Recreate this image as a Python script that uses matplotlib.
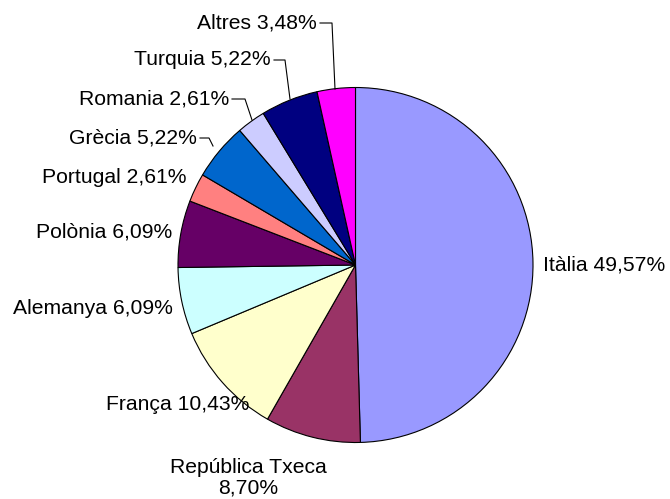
import matplotlib
matplotlib.use("Agg")
from matplotlib import pyplot as plt

plt.rcParams['font.family'] = ['Liberation Sans', 'DejaVu Sans']

# dades
paisos = ["Itàlia", "República Txeca", "França", "Alemanya", "Polònia",
          "Portugal", "Grècia", "Romania", "Turquia", "Altres"]
percent = [49.57, 8.70, 10.43, 6.09, 6.09, 2.61, 5.22, 2.61, 5.22, 3.48]
colors = ["#9999FF", "#993366", "#FFFFCC", "#CCFFFF", "#660066",
          "#FF8080", "#0066CC", "#CCCCFF", "#000080", "#FF00FF"]

W, H = 670, 499
cx, cy, r = 355.5, 265, 177.5

fig = plt.figure(figsize=(W / 100, H / 100), dpi=100)
ax = fig.add_axes([(cx - r) / W, (H - cy - r) / H, 2 * r / W, 2 * r / H])
ax.pie(percent, colors=colors, startangle=90, counterclock=False,
       wedgeprops=dict(edgecolor="black", linewidth=0.8))
ax.set_xlim(-1, 1)
ax.set_ylim(-1, 1)
ax.set_aspect("equal")
ax.axis("off")


def px(x, y):
    # pixel -> data coords de l'eix
    return (x - cx) / r, (cy - y) / r


def fmt(v):
    return ("%.2f" % v).replace(".", ",") + "%"


# posicio de les etiquetes (pixels), alineacio
lab_pos = {
    "Itàlia": (543, 265, "left"),
    "República Txeca": (248, 478, "center"),
    "França": (249, 405, "right"),
    "Alemanya": (173, 308, "right"),
    "Polònia": (172, 232, "right"),
    "Portugal": (186, 178, "right"),
    "Grècia": (197, 138, "right"),
    "Romania": (229, 99, "right"),
    "Turquia": (271, 60, "right"),
    "Altres": (317, 23, "right"),
}
# linies guia: (inici text, colze, punt del pastis)
guides = {
    "Altres": [(320, 23), (332, 23), (335, 89)],
    "Turquia": [(274, 60), (285, 60), (290, 99)],
    "Romania": [(232, 99), (245, 99), (252, 120)],
    "Grècia": [(200, 138), (209, 138), (213, 146)],
}

for p, v in zip(paisos, percent):
    x, y, ha = lab_pos[p]
    if p == "República Txeca":
        txt = p + "\n" + fmt(v)
    else:
        txt = p + " " + fmt(v)
    tx, ty = px(x, y)
    ax.text(tx, ty, txt, ha=ha, va="center", fontsize=15.2, color="black",
            linespacing=1.1, clip_on=False)
    if p in guides:
        pts = [px(a, b) for a, b in guides[p]]
        ax.plot([q[0] for q in pts], [q[1] for q in pts], color="black",
                lw=0.8, clip_on=False)

fig.savefig("out.png", dpi=100, facecolor="white")
